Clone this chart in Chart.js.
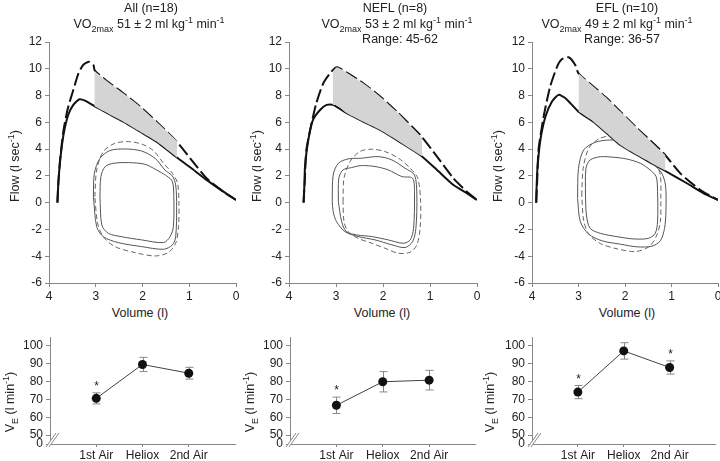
<!DOCTYPE html>
<html>
<head>
<meta charset="utf-8">
<script src="https://cdn.jsdelivr.net/npm/chart.js@4.4.1/dist/chart.umd.min.js"></script>
<style>
body{margin:0;background:#fff;width:720px;height:461px;position:relative;overflow:hidden;font-family:"Liberation Sans",Arial,sans-serif;color:#222}
canvas{position:absolute}
.t{position:absolute;font-size:12.5px;white-space:nowrap;transform:translate(-50%,-50%);line-height:14px}
.r{transform:translate(-50%,-50%) rotate(-90deg)}
sub,sup{font-size:9px;line-height:0}
</style>
</head>
<body>
<canvas id="f1" width="240" height="305" style="left:0;top:0"></canvas>
<canvas id="f2" width="240" height="305" style="left:240px;top:0"></canvas>
<canvas id="f3" width="240" height="305" style="left:480px;top:0"></canvas>
<canvas id="v1" width="240" height="141" style="left:0;top:320px"></canvas>
<canvas id="v2" width="240" height="141" style="left:240px;top:320px"></canvas>
<canvas id="v3" width="240" height="141" style="left:480px;top:320px"></canvas>

<div class="t" style="left:151px;top:8px">All (n=18)</div>
<div class="t" style="left:149px;top:24px">VO<sub>2max</sub> 51 ± 2 ml kg<sup>-1</sup> min<sup>-1</sup></div>
<div class="t" style="left:395px;top:8px">NEFL (n=8)</div>
<div class="t" style="left:397px;top:24px">VO<sub>2max</sub> 53 ± 2 ml kg<sup>-1</sup> min<sup>-1</sup></div>
<div class="t" style="left:400px;top:39px">Range: 45-62</div>
<div class="t" style="left:627px;top:8px">EFL (n=10)</div>
<div class="t" style="left:617px;top:24px">VO<sub>2max</sub> 49 ± 2 ml kg<sup>-1</sup> min<sup>-1</sup></div>
<div class="t" style="left:622px;top:39px">Range: 36-57</div>

<div class="t r" style="left:15px;top:166px">Flow (l sec<sup>-1</sup>)</div>
<div class="t r" style="left:257px;top:166px">Flow (l sec<sup>-1</sup>)</div>
<div class="t r" style="left:498px;top:166px">Flow (l sec<sup>-1</sup>)</div>
<div class="t" style="left:140px;top:313px">Volume (l)</div>
<div class="t" style="left:382px;top:313px">Volume (l)</div>
<div class="t" style="left:627px;top:313px">Volume (l)</div>
<div class="t r" style="left:10px;top:402px">V<sub>E</sub> (l min<sup>-1</sup>)</div>
<div class="t r" style="left:250px;top:402px">V<sub>E</sub> (l min<sup>-1</sup>)</div>
<div class="t r" style="left:490px;top:402px">V<sub>E</sub> (l min<sup>-1</sup>)</div>

<script>
const getEl=(id)=>document.getElementById(id);
const FONT="Liberation Sans";

/* ================= DATA ================= */
const volTicks=[4,3,2,1,0];
const flowTicks=[-6,-4,-2,0,2,4,6,8,10,12];
const veTicks=[45,50,60,70,80,90,100];
const categories=["1st Air","Heliox","2nd Air"];

/* All (n=18) : [volume, flow] */
const allAir=[[3.82,0],[3.80,1.45],[3.76,3.19],[3.69,5.06],[3.59,6.55],[3.48,7.3],[3.35,7.72],[3.23,7.62],[3.02,7.2],[2.77,6.72],[2.41,6.05],[2.05,5.3],[1.70,4.56],[1.27,3.39],[0.98,2.64],[0.63,1.7],[0.27,0.82],[0,0.2]];
const allHeliox=[[3.82,0],[3.80,1.5],[3.76,3.3],[3.69,5.4],[3.60,7.0],[3.48,8.42],[3.37,9.66],[3.27,10.28],[3.14,10.53],[3.05,10.28],[3.02,9.86],[2.77,9.11],[2.41,8.17],[2.05,7.17],[1.70,6.05],[1.27,4.56],[0.98,3.31],[0.63,1.82],[0.27,0.82],[0,0.2]];
const allShadeTop=[[1.26,4.6],[1.70,6.05],[2.05,7.17],[2.41,8.17],[2.77,9.11],[3.03,9.86]];
const allShadeBot=[[1.26,3.36],[1.70,4.56],[2.05,5.3],[2.41,6.05],[2.77,6.72],[3.03,7.2]];
const allTidalHe=[[3.02,0.45],[2.98,2.44],[2.84,3.81],[2.59,4.43],[2.30,4.56],[2.02,4.38],[1.77,3.89],[1.55,2.94],[1.36,2.19],[1.25,1.45],[1.22,-0.05],[1.23,-1.79],[1.29,-3.03],[1.45,-3.73],[1.73,-3.98],[2.16,-3.73],[2.59,-3.28],[2.84,-2.54],[2.96,-1.54],[3.02,0.45]];
const allTidal1=[[3.05,0.45],[3.03,2.19],[2.91,3.31],[2.70,3.89],[2.37,4.01],[2.02,3.86],[1.73,3.31],[1.52,2.44],[1.36,1.99],[1.29,1.32],[1.27,-0.3],[1.29,-2.54],[1.36,-3.16],[1.55,-3.48],[2.02,-3.28],[2.52,-2.98],[2.84,-2.54],[2.98,-1.79],[3.05,0.45]];
const allTidal2=[[2.91,0.45],[2.89,1.94],[2.80,2.69],[2.62,2.94],[2.30,2.99],[1.95,2.87],[1.70,2.44],[1.48,1.99],[1.36,1.57],[1.33,0.45],[1.34,-1.79],[1.41,-2.54],[1.55,-2.98],[2.02,-2.78],[2.45,-2.54],[2.73,-2.29],[2.87,-1.67],[2.91,0.45]];

/* NEFL (n=8) */
const nefAir=[[3.69,0],[3.67,1.5],[3.66,2.69],[3.59,4.68],[3.49,6.18],[3.34,6.92],[3.20,7.3],[3.06,7.3],[2.77,6.68],[2.42,6.05],[2.06,5.43],[1.71,4.68],[1.21,3.56],[0.85,2.44],[0.5,1.32],[0.21,0.7],[0,0.2]];
const nefHeliox=[[3.69,0],[3.66,2.0],[3.63,3.94],[3.52,5.93],[3.42,7.42],[3.27,8.92],[3.10,9.78],[2.98,10.11],[2.77,9.71],[2.42,8.92],[2.06,7.92],[1.71,6.8],[1.21,5.06],[0.85,3.44],[0.5,1.82],[0.21,0.8],[0,0.2]];
const nefShadeTop=[[1.17,4.85],[1.71,6.8],[2.06,7.92],[2.42,8.92],[2.77,9.71],[2.98,10.11],[3.07,9.75]];
const nefShadeBot=[[1.17,3.46],[1.71,4.68],[2.06,5.43],[2.42,6.05],[2.77,6.68],[2.98,7.28],[3.07,7.3]];
const nefTidalHe=[[2.85,0.08],[2.83,1.82],[2.70,3.07],[2.49,3.82],[2.24,3.99],[1.96,3.82],[1.67,3.32],[1.42,2.57],[1.26,1.82],[1.20,0.08],[1.21,-1.91],[1.28,-3.16],[1.42,-3.70],[1.67,-3.78],[1.96,-3.40],[2.24,-3.03],[2.53,-2.66],[2.74,-2.16],[2.83,-1.41],[2.85,0.08]];
const nefTidal1=[[3.08,0.08],[3.06,2.07],[2.95,2.94],[2.74,3.27],[2.46,3.32],[2.10,3.44],[1.81,3.19],[1.53,2.57],[1.33,2.07],[1.28,0.58],[1.30,-1.91],[1.37,-2.91],[1.53,-3.35],[1.81,-3.15],[2.17,-2.78],[2.53,-2.53],[2.81,-2.16],[2.99,-1.41],[3.06,-0.67],[3.08,0.08]];
const nefTidal2=[[2.95,0.08],[2.94,1.82],[2.85,2.45],[2.67,2.62],[2.46,2.77],[2.17,2.70],[1.89,2.45],[1.60,1.95],[1.37,1.82],[1.33,0.58],[1.35,-1.91],[1.42,-2.78],[1.57,-3.03],[1.89,-2.78],[2.24,-2.53],[2.56,-2.41],[2.78,-2.16],[2.88,-1.41],[2.95,0.08]];

/* EFL (n=10) */
const eflAir=[[3.91,0],[3.90,1.3],[3.88,2.69],[3.82,4.68],[3.71,6.43],[3.57,7.55],[3.43,8.05],[3.28,7.8],[3.0,6.8],[2.68,6.05],[2.39,5.18],[2.10,4.31],[1.74,3.56],[1.17,2.44],[0.67,1.45],[0.31,0.7],[0,0.2]];
const eflHeliox=[[3.91,0],[3.89,1.5],[3.86,3.94],[3.75,6.43],[3.61,8.67],[3.46,10.16],[3.36,10.71],[3.21,10.86],[3.07,10.28],[3.0,9.66],[2.68,8.67],[2.39,7.8],[2.10,6.8],[1.74,5.56],[1.17,3.69],[0.81,2.19],[0.38,0.95],[0,0.2]];
const eflShadeTop=[[1.13,3.55],[1.74,5.56],[2.10,6.8],[2.39,7.8],[2.68,8.67],[3.0,9.66]];
const eflShadeBot=[[1.13,2.38],[1.74,3.56],[2.10,4.31],[2.39,5.18],[2.68,6.05],[3.0,6.8]];
const eflTidalHe=[[2.93,0.57],[2.90,2.56],[2.78,4.06],[2.57,4.75],[2.32,5.0],[2.03,4.93],[1.78,4.43],[1.56,3.68],[1.35,2.94],[1.24,2.07],[1.23,0.32],[1.24,-1.42],[1.33,-2.54],[1.49,-3.3],[1.78,-3.65],[2.17,-3.45],[2.53,-3.05],[2.78,-2.35],[2.89,-1.29],[2.93,0.57]];
const eflTidal1=[[3.02,0.32],[3.00,2.56],[2.89,3.93],[2.64,4.51],[2.32,4.68],[2.0,4.56],[1.74,4.06],[1.46,3.06],[1.23,2.31],[1.13,1.32],[1.12,-0.67],[1.15,-1.92],[1.24,-2.85],[1.42,-3.25],[1.74,-3.3],[2.10,-3.1],[2.49,-2.85],[2.78,-2.35],[2.96,-1.42],[3.02,0.32]];
const eflTidal2=[[2.85,0.57],[2.84,2.56],[2.75,3.19],[2.53,3.43],[2.24,3.39],[1.96,3.26],[1.67,2.94],[1.46,2.44],[1.33,1.94],[1.30,0.82],[1.30,-1.42],[1.35,-2.29],[1.49,-2.66],[1.81,-2.71],[2.17,-2.54],[2.53,-2.29],[2.75,-1.92],[2.83,-0.92],[2.85,0.57]];

/* VE (l min-1), mean and SD */
const allVE=[70.6,89.6,84.7];
const allSD=[3.1,4.0,3.3];
const allSig=[1,0,0];
const nefVE=[66.7,79.9,80.8];
const nefSD=[4.6,5.7,5.5];
const nefSig=[1,0,0];
const eflVE=[74.1,97.2,87.9];
const eflSD=[3.7,4.6,3.7];
const eflSig=[1,0,1];

/* ================= HELPERS ================= */
const pts=(a)=>a.map(([x,y])=>({x,y}));
const tickFont={family:FONT,size:12};

function flowChart(id,yw,padR,air,heliox,shTop,shBot,tHe,t1,t2){
new Chart(getEl(id),{
type:"line",
data:{datasets:[
{data:pts(shTop),fill:"+1",backgroundColor:"#d4d4d4",borderWidth:0,tension:0.2},
{data:pts(shBot),borderWidth:0,fill:false,tension:0.2},
{data:pts(tHe),borderColor:"#666",borderWidth:1,borderDash:[5,3],tension:0.3},
{data:pts(t1),borderColor:"#555",borderWidth:1,tension:0.3},
{data:pts(t2),borderColor:"#555",borderWidth:1,tension:0.3},
{data:pts(air),borderColor:"#111",borderWidth:2,tension:0.2},
{data:pts(heliox),borderColor:"#111",borderWidth:2,borderDash:[13,4],tension:0.2}
]},
options:{
responsive:false,animation:false,events:[],
layout:{padding:{top:42,right:padR,left:0,bottom:0}},
elements:{point:{radius:0}},
plugins:{legend:{display:false},tooltip:{enabled:false}},
scales:{
x:{type:"linear",reverse:true,min:0,max:4,
afterBuildTicks:s=>{s.ticks=volTicks.map(v=>({value:v}));},
afterFit:s=>{s.height=22;s.paddingLeft=0;s.paddingRight=0;},
ticks:{color:"#222",font:tickFont,padding:2,autoSkip:false,maxRotation:0},
grid:{drawOnChartArea:false,tickLength:4,color:"#888"},
border:{color:"#888"}},
y:{min:-6,max:12,
afterBuildTicks:s=>{s.ticks=flowTicks.map(v=>({value:v}));},
afterFit:s=>{s.width=yw;s.paddingTop=0;s.paddingBottom=0;},
ticks:{color:"#222",font:tickFont,padding:3,autoSkip:false},
grid:{drawOnChartArea:false,tickLength:4,color:"#888"},
border:{color:"#888"}}
}
}
});
}

/* error bars, asterisks and axis break */
const errPlugin={
id:"err",
beforeDatasetsDraw(chart,args,o){
const {ctx,scales:{x,y}}=chart;
ctx.save();
ctx.strokeStyle="#888";
ctx.lineWidth=1;
o.ve.forEach((v,i)=>{
const px=Math.round(x.getPixelForValue(i+1))+0.5;
const top=y.getPixelForValue(v+o.sd[i]);
const bot=y.getPixelForValue(v-o.sd[i]);
ctx.beginPath();
ctx.moveTo(px,top);ctx.lineTo(px,bot);
ctx.moveTo(px-4,top);ctx.lineTo(px+4,top);
ctx.moveTo(px-4,bot);ctx.lineTo(px+4,bot);
ctx.stroke();
if(o.sig[i]){
ctx.fillStyle="#222";
ctx.font="12px "+FONT;
ctx.textAlign="center";
ctx.textBaseline="alphabetic";
ctx.fillText("*",px,top-3);
}
});
ctx.restore();
},
afterDraw(chart){
const {ctx,chartArea:{left,bottom}}=chart;
ctx.save();
ctx.fillStyle="#fff";
ctx.beginPath();
ctx.moveTo(left-3,bottom+2);ctx.lineTo(left+6,bottom-11);
ctx.lineTo(left+9,bottom-11);ctx.lineTo(left,bottom+2);
ctx.closePath();ctx.fill();
ctx.strokeStyle="#888";
ctx.lineWidth=1;
ctx.beginPath();
ctx.moveTo(left-4,bottom+3);ctx.lineTo(left+6,bottom-11);
ctx.moveTo(left-1,bottom+3);ctx.lineTo(left+9,bottom-11);
ctx.stroke();
ctx.restore();
}
};

function veChart(id,yw,padR,ve,sd,sig){
new Chart(getEl(id),{
type:"line",
data:{datasets:[{
data:ve.map((v,i)=>({x:i+1,y:v})),
borderColor:"#444",borderWidth:1,tension:0,
pointRadius:4.5,pointBackgroundColor:"#111",pointBorderWidth:0
}]},
options:{
responsive:false,animation:false,events:[],
layout:{padding:{top:17,right:padR,left:0,bottom:0}},
plugins:{legend:{display:false},tooltip:{enabled:false},err:{ve,sd,sig}},
scales:{
x:{type:"linear",min:0,max:4,
afterBuildTicks:s=>{s.ticks=categories.map((c,i)=>({value:i+1}));},
afterFit:s=>{s.height=17;s.paddingLeft=0;s.paddingRight=0;},
ticks:{color:"#222",font:tickFont,padding:1,autoSkip:false,maxRotation:0,
callback:v=>categories[v-1]},
grid:{drawOnChartArea:false,tickLength:3,color:"#888"},
border:{color:"#888"}},
y:{min:45,max:105,
afterBuildTicks:s=>{s.ticks=veTicks.map(v=>({value:v}));},
afterFit:s=>{s.width=yw;s.paddingTop=0;s.paddingBottom=0;},
ticks:{color:"#222",font:tickFont,padding:3,autoSkip:false,
callback:v=>v===45?"0":v},
grid:{drawOnChartArea:false,tickLength:4,color:"#888"},
border:{color:"#888"}}
}
},
plugins:[errPlugin]
});
}

/* ================= DRAW ================= */
flowChart("f1",49,4,allAir,allHeliox,allShadeTop,allShadeBot,allTidalHe,allTidal1,allTidal2);
flowChart("f2",49,3,nefAir,nefHeliox,nefShadeTop,nefShadeBot,nefTidalHe,nefTidal1,nefTidal2);
flowChart("f3",52,2,eflAir,eflHeliox,eflShadeTop,eflShadeBot,eflTidalHe,eflTidal1,eflTidal2);

veChart("v1",50,5,allVE,allSD,allSig);
veChart("v2",50,3,nefVE,nefSD,nefSig);
veChart("v3",52,3,eflVE,eflSD,eflSig);
</script>
</body>
</html>
